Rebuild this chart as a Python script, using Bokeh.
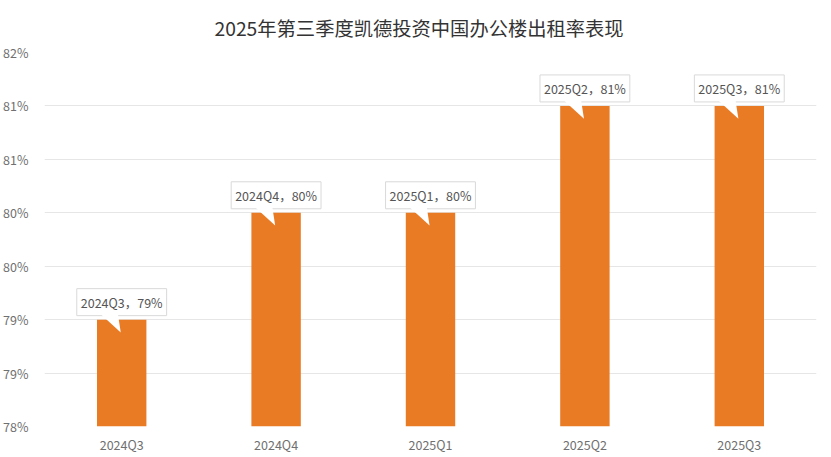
from bokeh.plotting import figure
from bokeh.models import ColumnDataSource, FixedTicker, Range1d
from bokeh.core.properties import value
from bokeh.embed import file_html
from bokeh.resources import INLINE

quarters = ["2024Q3", "2024Q4", "2025Q1", "2025Q2", "2025Q3"]
rates = [79.0, 80.0, 80.0, 81.0, 81.0]
rate_labels = ["79%", "80%", "80%", "81%", "81%"]
y_ticks = [78.0, 78.5, 79.0, 79.5, 80.0, 80.5, 81.0, 81.5]
y_tick_labels = ["78%", "79%", "79%", "80%", "80%", "81%", "81%", "82%"]

FONT = "Noto Sans CJK SC"

idx = list(range(len(quarters)))

src = ColumnDataSource(dict(
    x=idx,
    v=rates,
    lab=[f"{q}，{r}" for q, r in zip(quarters, rate_labels)],
))

# callout wedge shapes derived from each bar's position and value
wedge_xs = [[i - 0.148, i - 0.026, i - 0.006] for i in idx]
wedge_ys = [[v + 0.068, v + 0.068, v - 0.12] for v in rates]

p = figure(
    x_range=Range1d(-0.5, len(quarters) - 0.5),
    y_range=Range1d(78.0, 81.5),
    width=815, height=441,
    frame_width=772, frame_height=374,
    output_backend="svg", toolbar_location=None,
    title="2025年第三季度凯德投资中国办公楼出租率表现",
    min_border_left=0, min_border_right=3, min_border_top=0, min_border_bottom=0,
)
p.title.align = "left"
p.title.offset = 170
p.title.text_font = FONT
p.title.text_font_size = "19.3px"
p.title.text_font_style = "normal"
p.title.text_color = "#333333"
p.title.standoff = 22

p.vbar(x="x", top="v", bottom=78.0, width=0.32, source=src,
       fill_color="#E97B25", line_color=None)

# label boxes
p.text(x="x", y="v", text="lab", source=src, y_offset=-4,
       text_align="center", text_baseline="bottom",
       text_font=value(FONT), text_font_size="12.5px", text_color="#555555",
       background_fill_color="white", border_line_color="#d9d9d9",
       padding=4)

# callout wedges
p.patches(xs=wedge_xs, ys=wedge_ys, fill_color="white", line_color=None)

p.xaxis.ticker = FixedTicker(ticks=idx)
p.xaxis.major_label_overrides = {i: q for i, q in zip(idx, quarters)}
p.yaxis.ticker = FixedTicker(ticks=y_ticks)
p.yaxis.major_label_overrides = {t: l for t, l in zip(y_ticks, y_tick_labels)}
for ax in (p.xaxis, p.yaxis):
    ax.axis_line_color = None
    ax.major_tick_line_color = None
    ax.minor_tick_line_color = None
    ax.major_label_text_font = FONT
    ax.major_label_text_font_size = "12.5px"
    ax.major_label_text_color = "#707070"
p.yaxis.major_label_standoff = 10
p.xaxis.major_label_standoff = 2

p.xgrid.grid_line_color = None
p.ygrid.grid_line_color = "#e6e6e6"
p.ygrid.ticker = FixedTicker(ticks=y_ticks)
p.outline_line_color = None

open("out.html", "w").write(file_html(p, INLINE))
